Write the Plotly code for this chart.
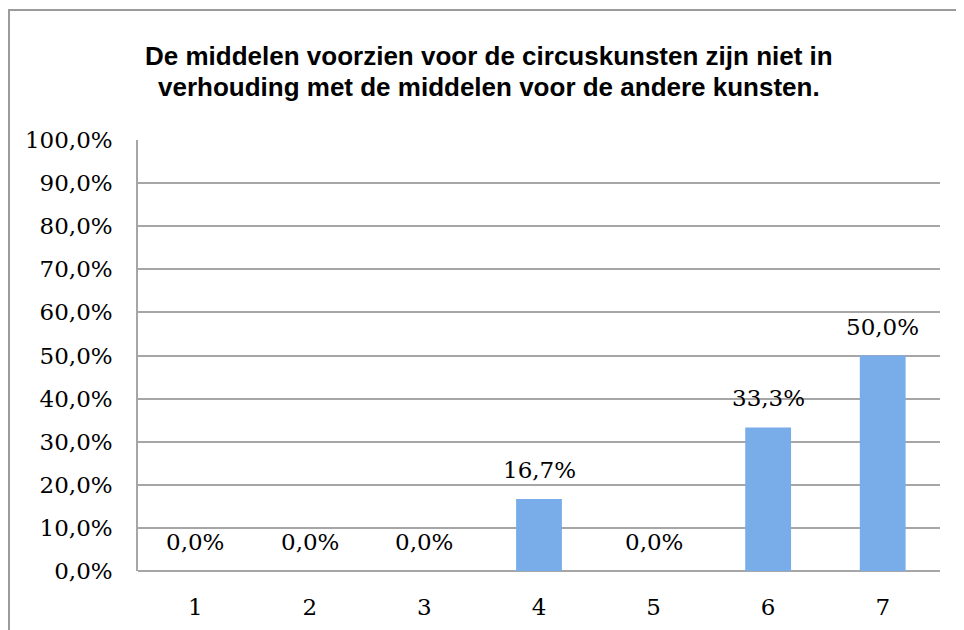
import plotly.graph_objects as go

categories = ["1", "2", "3", "4", "5", "6", "7"]
values = [0.0, 0.0, 0.0, 16.7, 0.0, 33.3, 50.0]
value_labels = ["0,0%", "0,0%", "0,0%", "16,7%", "0,0%", "33,3%", "50,0%"]
tick_vals = [0, 10, 20, 30, 40, 50, 60, 70, 80, 90, 100]
tick_text = ["0,0%", "10,0%", "20,0%", "30,0%", "40,0%", "50,0%",
             "60,0%", "70,0%", "80,0%", "90,0%", "100,0%"]
title_lines = ["De middelen voorzien voor de circuskunsten zijn niet in",
               "verhouding met de middelen voor de andere kunsten."]

OFF = 8  # page body margin
W, H = 964 - OFF, 630 - OFF
L = 138 - OFF
T = 140 - OFF
R = W - (940 - OFF)
B = H - (571 - OFF)
pw, ph = W - L - R, H - T - B

def px_x(p):
    return (p - OFF - L) / pw

def px_y(p):
    return (H - B - (p - OFF)) / ph

serif = "DejaVu Serif"
grid = "#a6a6a6"

fig = go.Figure()
fig.add_trace(go.Bar(
    x=categories, y=values, width=0.4,
    marker=dict(color="#79ade9", line=dict(width=0)),
    hoverinfo="skip",
))

for i, (v, t) in enumerate(zip(values, value_labels)):
    fig.add_annotation(x=i, y=v, text=t, showarrow=False, xref="x", yref="y",
                       yanchor="bottom", yshift=14,
                       font=dict(family=serif, size=23, color="#000000"))

for line, ypx in zip(title_lines, [56, 87]):
    fig.add_annotation(x=px_x(489), y=px_y(ypx), xref="paper", yref="paper",
                       text="<b>" + line + "</b>", showarrow=False,
                       xanchor="center", yanchor="middle", align="center",
                       font=dict(family="Liberation Sans", size=26, color="#000000"))

fig.add_shape(type="rect", xref="paper", yref="paper",
              x0=px_x(9), y0=px_y(700), x1=px_x(1100), y1=px_y(10),
              line=dict(color="#9b9b9b", width=2), fillcolor="rgba(0,0,0,0)",
              layer="below")

fig.update_layout(
    width=W, height=H,
    margin=dict(l=L, r=R, t=T, b=B, autoexpand=False),
    paper_bgcolor="white", plot_bgcolor="white",
    showlegend=False,
    xaxis=dict(type="category", range=[-0.5, 6.5], showgrid=False,
               showline=False, zeroline=False,
               ticks="", ticklabelstandoff=20,
               tickfont=dict(family=serif, size=23, color="#000000")),
    yaxis=dict(range=[0, 100], tickvals=tick_vals, ticktext=tick_text,
               showgrid=True, gridcolor=grid, gridwidth=1.5,
               zeroline=True, zerolinecolor=grid, zerolinewidth=1.5,
               showline=True, linecolor=grid, linewidth=1.5,
               ticks="", ticklabelstandoff=19,
               tickfont=dict(family=serif, size=23, color="#000000")),
    bargap=0.6,
)

fig.write_html("out.html")
